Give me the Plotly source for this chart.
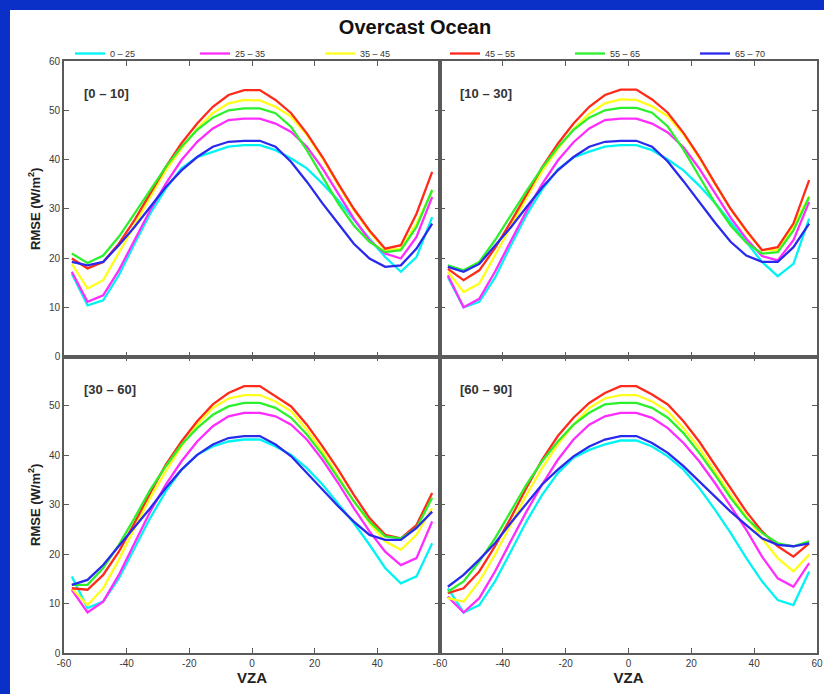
import plotly.graph_objects as go

W, H = 824, 694

vza = [-57.5, -52.5, -47.5, -42.5, -37.5, -32.5, -27.5, -22.5, -17.5, -12.5, -7.5, -2.5,
       2.5, 7.5, 12.5, 17.5, 22.5, 27.5, 32.5, 37.5, 42.5, 47.5, 52.5, 57.5]

series_names = ["0 – 25", "25 – 35", "35 – 45", "45 – 55", "55 – 65", "65 – 70"]
series_colors = ["#00f4f4", "#ff2cff", "#ffff1a", "#ff2a1a", "#2cf02c", "#2a2aee"]
panel_labels = ["[0 – 10]", "[10 – 30]", "[30 – 60]", "[60 – 90]"]

# panel [0 - 10]
p1_c0 = [16.8, 10.4, 11.4, 16.5, 22.9, 29.0, 34.1, 38.2, 40.5, 41.6, 42.6, 42.9, 42.9, 41.9, 40.2, 38.2, 35.1, 31.7, 27.7, 23.9, 20.2, 17.2, 20.2, 28.3]
p1_c1 = [17.2, 11.1, 12.4, 17.5, 23.6, 29.7, 35.1, 39.9, 43.6, 46.3, 48.0, 48.3, 48.3, 47.3, 45.6, 42.6, 38.2, 33.1, 28.0, 23.6, 20.9, 19.9, 24.3, 32.4]
p1_c2 = [18.8, 13.8, 15.5, 20.9, 26.6, 32.4, 37.8, 42.2, 46.3, 49.4, 51.4, 52.1, 52.0, 50.7, 48.7, 45.0, 40.2, 34.8, 29.7, 25.3, 21.6, 21.9, 27.0, 33.6]
p1_c3 = [19.9, 17.9, 19.2, 22.9, 27.7, 33.1, 38.5, 43.3, 47.3, 50.7, 53.1, 54.1, 54.1, 52.1, 49.4, 45.3, 40.5, 35.1, 30.0, 25.6, 21.9, 22.6, 29.0, 37.5]
p1_c4 = [20.9, 19.0, 20.5, 24.3, 29.0, 33.8, 38.5, 42.6, 46.0, 48.5, 50.0, 50.4, 50.4, 49.4, 46.6, 41.9, 36.5, 31.1, 26.6, 23.3, 21.2, 21.6, 26.3, 33.8]
p1_c5 = [19.2, 18.5, 19.2, 22.6, 26.3, 30.4, 34.4, 37.8, 40.5, 42.6, 43.6, 43.8, 43.8, 42.6, 39.5, 35.5, 31.1, 27.0, 22.9, 19.9, 18.2, 18.5, 21.9, 27.0]

# panel [10 - 30]
p2_c0 = [16.1, 10.0, 11.1, 16.0, 22.5, 28.7, 33.9, 38.0, 40.4, 41.6, 42.6, 42.9, 42.9, 41.9, 40.0, 37.8, 34.7, 31.2, 27.3, 23.3, 19.2, 16.3, 18.8, 28.0]
p2_c1 = [16.5, 10.0, 11.7, 17.2, 23.4, 29.5, 35.0, 39.8, 43.5, 46.3, 48.0, 48.3, 48.3, 47.3, 45.5, 42.5, 38.2, 33.2, 28.2, 23.9, 20.4, 19.5, 23.6, 31.4]
p2_c2 = [17.2, 13.1, 14.8, 20.4, 26.3, 32.2, 37.6, 42.1, 46.2, 49.3, 51.4, 52.2, 52.1, 50.8, 48.8, 45.1, 40.3, 35.0, 29.9, 25.3, 21.6, 21.6, 26.5, 32.6]
p2_c3 = [17.8, 15.5, 17.5, 22.0, 27.3, 32.9, 38.4, 43.2, 47.3, 50.7, 53.1, 54.2, 54.2, 52.2, 49.5, 45.4, 40.6, 35.2, 30.0, 25.6, 21.6, 22.2, 27.0, 35.8]
p2_c4 = [18.5, 17.5, 19.2, 23.6, 28.6, 33.6, 38.3, 42.5, 46.0, 48.5, 50.0, 50.5, 50.5, 49.5, 46.7, 42.0, 36.6, 31.2, 26.6, 23.1, 20.9, 21.2, 25.6, 32.4]
p2_c5 = [18.2, 17.2, 18.8, 22.4, 26.2, 30.3, 34.3, 37.8, 40.5, 42.6, 43.6, 43.8, 43.8, 42.6, 39.6, 35.6, 31.3, 27.2, 23.3, 20.5, 19.2, 19.2, 22.2, 27.0]

# panel [30 - 60]
p3_c0 = [15.5, 9.1, 10.4, 15.1, 21.2, 27.3, 32.7, 37.1, 40.1, 41.8, 42.8, 43.2, 43.2, 41.8, 40.1, 37.4, 34.1, 30.3, 26.3, 21.9, 17.2, 14.1, 15.5, 22.2]
p3_c1 = [12.8, 8.2, 10.4, 15.8, 22.2, 28.6, 34.1, 38.8, 42.8, 45.9, 47.9, 48.6, 48.6, 47.9, 46.2, 43.2, 39.1, 34.4, 29.3, 24.6, 20.5, 17.8, 19.2, 26.6]
p3_c2 = [13.1, 9.7, 13.1, 18.9, 25.3, 31.4, 36.8, 41.8, 46.2, 49.6, 51.5, 52.2, 52.2, 50.9, 48.9, 45.2, 40.8, 35.7, 30.7, 26.3, 22.6, 20.9, 23.9, 29.3]
p3_c3 = [13.1, 12.8, 15.8, 20.5, 26.3, 32.4, 38.1, 42.8, 46.9, 50.3, 52.6, 54.0, 54.0, 52.0, 49.9, 46.2, 41.8, 37.1, 32.0, 27.3, 23.9, 23.2, 25.9, 32.4]
p3_c4 = [13.8, 13.8, 17.2, 21.9, 27.3, 33.0, 37.8, 42.2, 45.5, 48.2, 49.9, 50.6, 50.6, 49.6, 47.6, 44.2, 40.1, 35.4, 30.7, 26.6, 23.6, 23.2, 25.3, 31.4]
p3_c5 = [13.8, 14.8, 17.8, 21.6, 25.3, 29.3, 33.4, 37.1, 40.1, 42.2, 43.5, 43.9, 43.9, 42.2, 39.8, 36.4, 33.0, 29.7, 26.6, 23.9, 22.9, 22.9, 25.3, 28.6]

# panel [60 - 90]
p4_c0 = [13.1, 8.2, 9.7, 14.5, 20.5, 26.6, 32.0, 36.4, 39.5, 41.1, 42.2, 43.0, 43.0, 41.8, 39.8, 37.1, 33.4, 29.0, 24.3, 19.2, 14.5, 10.7, 9.7, 16.5]
p4_c1 = [11.4, 8.2, 11.1, 16.5, 22.6, 28.6, 34.1, 39.1, 43.2, 46.2, 47.9, 48.6, 48.6, 47.6, 45.5, 42.5, 38.8, 34.4, 29.7, 24.9, 19.5, 15.1, 13.4, 18.2]
p4_c2 = [11.1, 10.4, 14.5, 19.9, 25.9, 32.0, 37.4, 42.2, 46.2, 49.6, 51.5, 52.2, 52.2, 50.9, 48.9, 45.5, 41.5, 36.8, 32.0, 27.6, 23.2, 19.2, 16.5, 19.9]
p4_c3 = [12.1, 13.1, 16.5, 21.6, 27.3, 33.4, 39.1, 43.9, 47.6, 50.6, 52.6, 54.0, 54.0, 52.3, 50.3, 46.9, 42.8, 38.1, 33.4, 28.6, 24.6, 21.6, 19.5, 22.2]
p4_c4 = [12.4, 14.5, 18.5, 23.2, 28.6, 34.1, 38.8, 42.8, 46.2, 48.6, 50.3, 50.6, 50.6, 49.6, 47.6, 44.5, 40.5, 36.1, 31.4, 27.3, 24.3, 22.2, 21.6, 22.6]
p4_c5 = [13.4, 15.8, 18.9, 22.2, 26.3, 30.3, 34.1, 37.1, 39.8, 41.8, 43.2, 43.9, 43.9, 42.5, 40.5, 37.8, 34.7, 31.7, 28.6, 25.9, 23.2, 21.9, 21.6, 22.2]

panels = [
    [p1_c0, p1_c1, p1_c2, p1_c3, p1_c4, p1_c5],
    [p2_c0, p2_c1, p2_c2, p2_c3, p2_c4, p2_c5],
    [p3_c0, p3_c1, p3_c2, p3_c3, p3_c4, p3_c5],
    [p4_c0, p4_c1, p4_c2, p4_c3, p4_c4, p4_c5],
]

x_ticks_all = [-60, -40, -20, 0, 20, 40, 60]
y_ticks_all = [0, 10, 20, 30, 40, 50, 60]

# pixel geometry of the panels
px_left = [(64, 440), (440, 817)]
px_top = [(61, 356.5), (356.5, 653)]

def xd(a, b):
    return [a / W, b / W]

def yd(top, bot):
    return [1 - bot / H, 1 - top / H]

fig = go.Figure()
axis_line = "#5a5a5a"
tick_font = dict(family="Liberation Sans, Arial", size=10, color="#3a3a3a")

for i, pdata in enumerate(panels):
    r, c = divmod(i, 2)
    n = i + 1
    xa = "x" if n == 1 else f"x{n}"
    ya = "y" if n == 1 else f"y{n}"
    for k, vals in enumerate(pdata):
        fig.add_trace(go.Scatter(
            x=vza, y=vals, mode="lines", name=series_names[k],
            line=dict(color=series_colors[k], width=2.3),
            xaxis=xa, yaxis=ya, legendgroup=series_names[k],
            showlegend=(i == 0),
        ))
    xkey = "xaxis" if n == 1 else f"xaxis{n}"
    ykey = "yaxis" if n == 1 else f"yaxis{n}"
    xt = x_ticks_all if c == 1 else x_ticks_all[:-1]
    yt = y_ticks_all if r == 0 else y_ticks_all[:-1]
    fig.layout[xkey] = dict(
        domain=xd(*px_left[c]), range=[-60, 60], anchor=ya,
        tickvals=xt, ticktext=[str(t) for t in xt], showticklabels=(r == 1),
        ticks="inside", ticklen=5, tickwidth=1.2,
        tickcolor=axis_line, showline=True, linecolor=axis_line, linewidth=1.6,
        mirror="ticks", showgrid=False, zeroline=False, tickfont=tick_font,
        title=dict(text="<b>VZA</b>", font=dict(family="Liberation Sans, Arial", size=15, color="#222"), standoff=2) if r == 1 else None,
        automargin=False,
    )
    fig.layout[ykey] = dict(
        domain=yd(*px_top[r]), range=[0, 60], anchor=xa,
        tickvals=yt, ticktext=[str(t) for t in yt], showticklabels=(c == 0),
        ticks="inside", ticklen=5, tickwidth=1.2,
        tickcolor=axis_line, showline=True, linecolor=axis_line, linewidth=1.6,
        mirror="ticks", showgrid=False, zeroline=False, tickfont=tick_font,
        title=dict(text="<b>RMSE (W/m<sup>2</sup>)</b>", font=dict(family="Liberation Sans, Arial", size=13, color="#222"), standoff=6) if c == 0 else None,
        automargin=False,
    )
    fig.add_annotation(
        x=0.048, y=0.89, xref=f"{xa} domain", yref=f"{ya} domain",
        text=f"<b>{panel_labels[i]}</b>", showarrow=False, xanchor="left", yanchor="middle",
        font=dict(family="Liberation Sans, Arial", size=13, color="#333"),
    )

# blue frame around the slide
frame_blue = "#0a30c8"
fig.add_shape(type="rect", xref="paper", yref="paper", x0=0, x1=10 / W, y0=0, y1=1,
              fillcolor=frame_blue, line=dict(width=0), layer="above")
fig.add_shape(type="rect", xref="paper", yref="paper", x0=0, x1=1, y0=1 - 10 / H, y1=1,
              fillcolor=frame_blue, line=dict(width=0), layer="above")

fig.update_layout(
    width=W, height=H,
    margin=dict(l=0, r=0, t=0, b=0),
    paper_bgcolor="white", plot_bgcolor="white",
    title=dict(text="<b>Overcast Ocean</b>", x=415 / W, xanchor="center", y=1 - 27 / H, yanchor="middle",
               font=dict(family="Liberation Sans, Arial", size=20, color="#111")),
    legend=dict(orientation="h", x=70 / W, xanchor="left", y=1 - 39 / H, yanchor="top",
                font=dict(family="Liberation Sans, Arial", size=9, color="#333"),
                entrywidth=80, entrywidthmode="pixels", bgcolor="rgba(0,0,0,0)",
                itemwidth=30, tracegroupgap=0),
    showlegend=True,
)

fig.write_html("out.html")
